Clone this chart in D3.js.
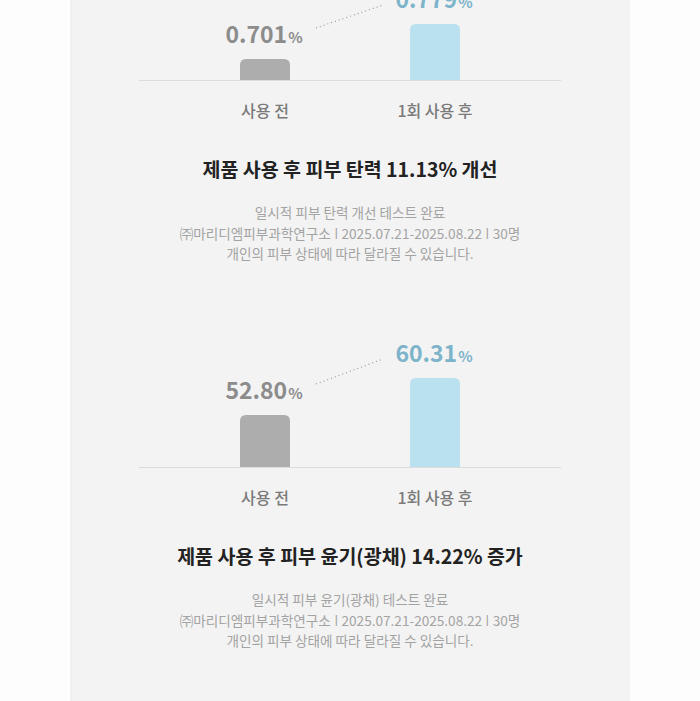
<!DOCTYPE html>
<html><head><meta charset="utf-8">
<script src="https://cdn.jsdelivr.net/npm/d3@7"></script>
<style>
html,body{margin:0;padding:0;background:#fdfdfd;}
svg{display:block;}
</style></head>
<body>
<svg id="chart" width="700" height="701"></svg>
<script>
// ---- data ----
const categories = ["사용 전", "1회 사용 후"];
const elasticityValues = [0.701, 0.779];
const glossValues = [52.80, 60.31];
const valueDecimals = [3, 2];
const titles = ["제품 사용 후 피부 탄력 11.13% 개선", "제품 사용 후 피부 윤기(광채) 14.22% 증가"];
const notesElasticity = ["일시적 피부 탄력 개선 테스트 완료", "㈜마리디엠피부과학연구소 ǀ 2025.07.21-2025.08.22 ǀ 30명", "개인의 피부 상태에 따라 달라질 수 있습니다."];
const notesGloss = ["일시적 피부 윤기(광채) 테스트 완료", "㈜마리디엠피부과학연구소 ǀ 2025.07.21-2025.08.22 ǀ 30명", "개인의 피부 상태에 따라 달라질 수 있습니다."];
// value-axis floor and the height (px) of the taller bar for each decorative chart
const axisFloors = [0.654, 42.25];
const tallBarHeights = [56, 89];

const series = [elasticityValues, glossValues];
const notes = [notesElasticity, notesGloss];

const svg = d3.select("#chart");
const FONT = "'Noto Sans CJK KR','Noto Sans',sans-serif";

svg.append("rect").attr("x", 71).attr("y", -2).attr("width", 558).attr("height", 705)
  .attr("fill", "#f3f3f3").attr("stroke", "#ececec").attr("stroke-width", 1);

const x = d3.scalePoint().domain(categories).range([180, 520]).padding(0.5);
const barW = 50, r = 6;
const barColors = ["#adadad", "#b9e1f0"];
const labelColors = ["#8c8c8c", "#7db4ca"];

function topRounded(x0, y0, w, h, rr) {
  rr = Math.min(rr, h);
  return `M${x0},${y0 + h}V${y0 + rr}Q${x0},${y0} ${x0 + rr},${y0}H${x0 + w - rr}Q${x0 + w},${y0} ${x0 + w},${y0 + rr}V${y0 + h}Z`;
}

series.forEach((vals, i) => {
  const g = svg.append("g").attr("transform", `translate(0,${i * 387})`);
  const baseline = 80;
  const y = d3.scaleLinear().domain([axisFloors[i], d3.max(vals)])
    .range([baseline, baseline - tallBarHeights[i]]);
  const fmt = d3.format("." + valueDecimals[i] + "f");

  // baseline
  g.append("line").attr("x1", 139).attr("x2", 561).attr("y1", baseline + 0.5).attr("y2", baseline + 0.5)
    .attr("stroke", "#dcdcdc").attr("stroke-width", 1.2);

  // bars
  g.selectAll("path.bar").data(vals).join("path").attr("class", "bar")
    .attr("d", (d, j) => topRounded(x(categories[j]) - barW / 2, y(d), barW, baseline - y(d), r))
    .attr("fill", (d, j) => barColors[j]);

  // dotted connector
  g.append("line")
    .attr("x1", x(categories[0]) + 51).attr("y1", y(vals[0]) - 31)
    .attr("x2", x(categories[1]) - 52).attr("y2", y(vals[1]) - 19)
    .attr("stroke", "#9a9a9a").attr("stroke-width", 1.2).attr("stroke-dasharray", "1 3");

  // value labels
  const t = g.selectAll("text.val").data(vals).join("text").attr("class", "val")
    .attr("x", (d, j) => x(categories[j]) - 1)
    .attr("y", d => y(d) - 16)
    .attr("text-anchor", "middle")
    .attr("font-family", FONT).attr("font-weight", 700)
    .attr("fill", (d, j) => labelColors[j]);
  t.append("tspan").attr("font-size", 23).text(d => fmt(d));
  t.append("tspan").attr("font-size", 15).attr("dx", 1).text("%");

  // category labels
  g.selectAll("text.cat").data(categories).join("text").attr("class", "cat")
    .attr("x", d => x(d)).attr("y", baseline + 37)
    .attr("text-anchor", "middle").attr("font-family", FONT).attr("font-size", 16)
    .attr("font-weight", 500).attr("fill", "#7a7a7a").text(d => d);

  // title
  g.append("text").attr("x", 350).attr("y", 177).attr("text-anchor", "middle")
    .attr("font-family", FONT).attr("font-size", 19.5).attr("font-weight", 700)
    .attr("fill", "#222").text(titles[i]);

  // notes
  g.selectAll("text.note").data(notes[i]).join("text").attr("class", "note")
    .attr("x", 350).attr("y", (d, k) => 218 + k * 20.5)
    .attr("text-anchor", "middle").attr("font-family", FONT).attr("font-size", 13.6)
    .attr("fill", "#a3a3a3").text(d => d);
});
</script>
</body></html>
